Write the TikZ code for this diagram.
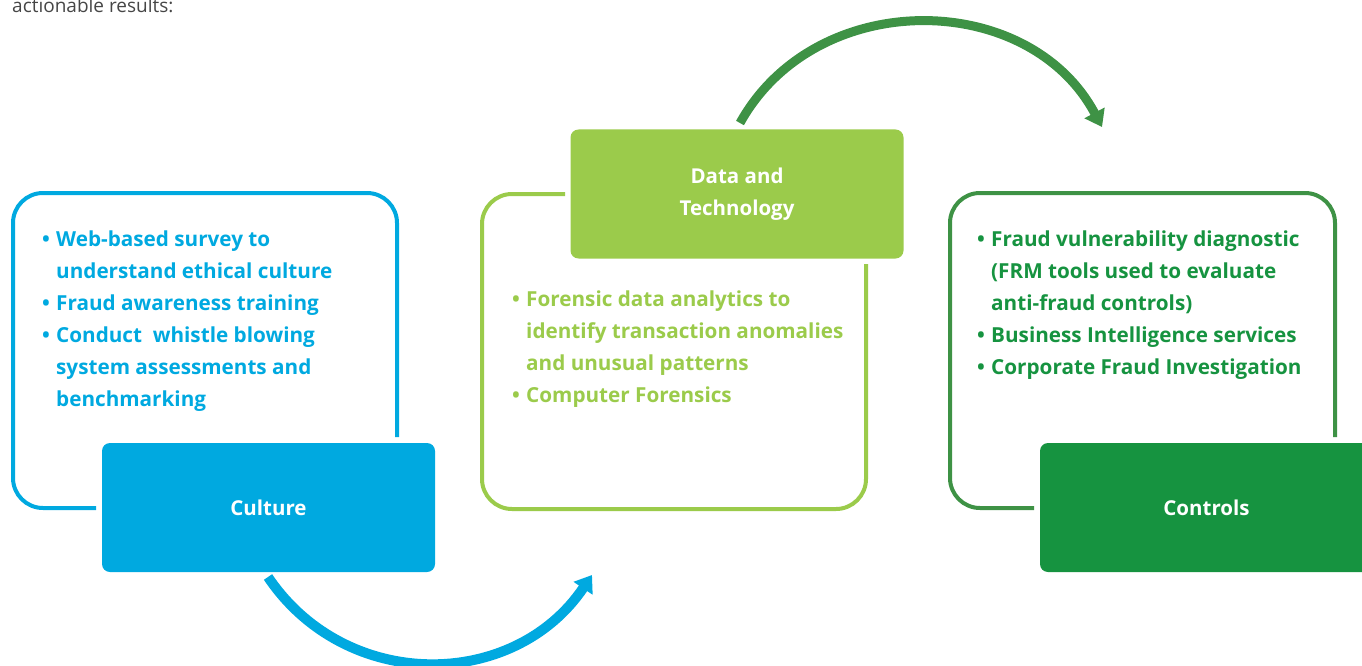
\documentclass[tikz,border=0pt]{standalone}
\usepackage{fontspec}
\setmainfont{Open Sans}
\usetikzlibrary{arrows.meta}

\definecolor{cultblue}{RGB}{0,169,224}
\definecolor{datagreen}{RGB}{155,203,75}
\definecolor{ctrlgreen}{RGB}{22,147,64}
\definecolor{arcgreen}{RGB}{62,146,69}
\definecolor{introgray}{RGB}{70,70,70}

\newcommand{\bl}{\makebox[14pt][l]{\textbullet}}
\newcommand{\ind}{\hspace*{14pt}}

\tikzset{
  pillar/.style={rectangle, rounded corners=8pt, minimum width=333pt,
    minimum height=129pt, inner sep=0, align=center, text=white,
    font=\bfseries\fontsize{20.5}{32}\selectfont},
  frame/.style={line width=4pt, rounded corners=30pt},
  bullets/.style={anchor=north west, inner sep=0, align=left,
    font=\bfseries\fontsize{20.7}{32}\selectfont},
  turn/.style={line width=10pt, -{Triangle[length=16pt,width=22pt]}}
}

\begin{document}
\begin{tikzpicture}[x=1pt,y=1pt]
    \useasboundingbox (0,0) rectangle (1362,-666);
    \clip (0,0) rectangle (1362,-666);

    % intro line, cut at the top
    \node[anchor=base west, inner sep=0, text=introgray,
          font=\fontsize{19}{22}\selectfont] (intro) at (12,-13) {actionable results:};

    % outline frames
    \draw[frame, cultblue] (96,-508) -| (13,-193) -| (397,-437);
    \draw[frame, datagreen] (565,-194) -| (482,-509) -| (866,-264);
    \draw[frame, arcgreen] (1034,-508) -| (950,-193) -| (1335,-437);

    % filled boxes
    \node[pillar, fill=cultblue] (culture) at (268.5,-507.5) {\raisebox{-2pt}{Culture}};
    \node[pillar, fill=datagreen] (data) at (737,-194) {Data and\\Technology};
    \node[pillar, fill=ctrlgreen] (controls) at (1206.5,-507.5) {\raisebox{-2pt}{Controls}};

    % bullet lists
    \node[bullets, text=cultblue] (cultlist) at (42,-231)
        {\bl Web-based survey to\\
         \ind understand ethical culture\\
         \bl Fraud awareness training\\
         \bl Conduct\ \ whistle blowing\\
         \ind system assessments and\\
         \ind benchmarking};
    \node[bullets, text=datagreen] (datalist) at (512,-291)
        {\bl Forensic data analytics to\\
         \ind identify transaction anomalies\\
         \ind and unusual patterns\\
         \bl Computer Forensics};
    \node[bullets, text=ctrlgreen] (ctrllist) at (977,-231)
        {\bl Fraud vulnerability diagnostic\\
         \ind (FRM tools used to evaluate\\
         \ind anti-fraud controls)\\
         \bl Business Intelligence services\\
         \bl Corporate Fraud Investigation};

    % curved arrows between the pillars
    \coordinate (cultout) at (268,-577);
    \coordinate (datain) at (592,-575);
    \coordinate (dataout) at (740,-123);
    \coordinate (ctrlin) at (1102,-127);
    \draw[turn, cultblue] (cultout) to[out=-56, in=-124, looseness=1.1] (datain);
    \draw[turn, arcgreen, line width=9pt] (dataout) to[out=61, in=118, looseness=1.1] (ctrlin);
\end{tikzpicture}
\end{document}
